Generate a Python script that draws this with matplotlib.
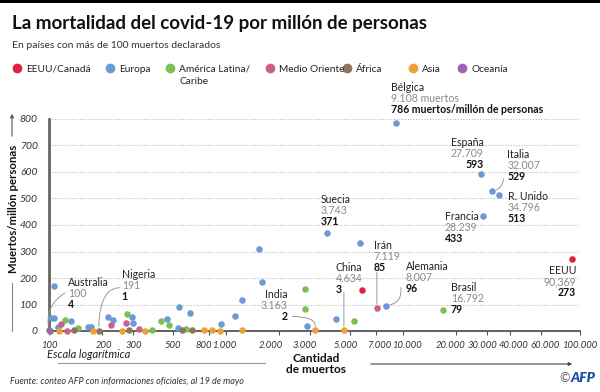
import numpy as np
import matplotlib
matplotlib.use("Agg")
import matplotlib.pyplot as plt
from matplotlib.lines import Line2D
from matplotlib.transforms import ScaledTranslation

plt.rcParams['font.family'] = ['Lato', 'DejaVu Sans']

# datos: (muertos, muertos por millón) por región
eeuu_deaths = [5900, 90369]
eeuu_rate = [155, 273]

eur_deaths = [107, 103, 107, 112, 133, 166, 173, 216, 230, 295, 299, 465, 536,
              544, 627, 940, 1127, 1235, 1542, 1600, 2850, 3743, 4160, 5680,
              8007, 9108, 27709, 28239, 32007, 34796]
eur_rate = [170, 49, 49, 15, 38, 15, 15, 53, 40, 53, 30, 45, 11,
            91, 68, 26, 57, 117, 309, 185, 19, 371, 45, 332,
            96, 786, 593, 433, 529, 513]

lat_deaths = [123, 146, 276, 383, 430, 477, 595, 2810, 2810, 5320, 16792]
lat_rate = [42, 11, 64, 4, 38, 23, 8, 158, 83, 38, 79]

mo_deaths = [117, 126, 224, 273, 323, 7119]
mo_rate = [26, 0, 23, 30, 8, 85]

afr_deaths = [101, 139, 191, 284, 566, 643]
afr_rate = [0, 4, 1, 4, 4, 4]

asia_deaths = [114, 177, 259, 349, 752, 836, 930, 1235, 3163, 4634]
asia_rate = [0, 0, 0, 0, 2, 3, 0, 4, 2, 3]

oce_deaths = [100]
oce_rate = [4]

regions = ['EEUU/Canadá', 'Europa', 'América Latina/', 'Medio Oriente',
           'África', 'Asia', 'Oceanía']
colors = ['#e0213f', '#6a9bd1', '#7dbf55', '#c9608a', '#8f7560', '#eda13a', '#9b67b3']

xticks = [100, 200, 300, 500, 800, 1000, 2000, 3000, 5000, 7000, 10000,
          20000, 30000, 40000, 60000, 100000]
xticklabels = ['100', '200', '300', '500', '800', '1.000', '2.000', '3.000', '5.000',
               '7.000', '10.000', '20.000', '30.000', '40.000', '60.000', '100.000']
yticks = [0, 100, 200, 300, 400, 500, 600, 700, 800]

# países destacados
ann_names = ['Bélgica', 'España', 'Italia', 'R. Unido', 'Francia', 'Suecia', 'Irán',
             'China', 'Alemania', 'Brasil', 'EEUU', 'India', 'Australia', 'Nigeria']
ann_x = [9108, 27709, 32007, 34796, 28239, 3743, 7119, 4634, 8007, 16792, 90369,
         3163, 100, 191]
ann_y = [786, 593, 529, 513, 433, 371, 85, 3, 96, 79, 273, 2, 4, 1]
ann_deaths = ['9.108 muertos', '27.709', '32.007', '34.796', '28.239', '3.743', '7.119',
              '4.634', '8.007', '16.792', '90,369', '3.163', '100', '191']
ann_rates = ['786 muertos/millón de personas', '593', '529', '513', '433', '371', '85',
             '3', '96', '79', '273', '2', '4', '1']
# desplazamiento del texto en píxeles (dx, dy hacia arriba) y alineación
ann_pos = [(-5, 35, 'left'), (2, 31, 'right'), (15, 36, 'left'), (9, -1, 'left'),
           (-38, 0, 'left'), (-7, 33, 'left'), (-3, 63, 'left'), (-8, 63, 'left'),
           (20, 39, 'left'), (8, 23, 'left'), (4, -12, 'right'), (-27, 36, 'right'),
           (19, 47, 'left'), (23, 56, 'left')]

W, H = 600, 392
fig = plt.figure(figsize=(6, 3.92), dpi=100)
fig.patch.set_facecolor('white')


def fx(px):
    return px / W


def fy(py):
    return 1 - py / H


# barra negra arriba
fig.add_artist(plt.Rectangle((0, fy(3)), 1, 3 / H, transform=fig.transFigure,
                             color='black', lw=0))

fig.text(fx(12), fy(29), 'La mortalidad del covid-19 por millón de personas',
         fontsize=13.5, fontweight='bold', color='#111111', va='baseline')
fig.text(fx(12), fy(48), 'En países con más de 100 muertos declarados',
         fontsize=7.5, color='#333333', va='baseline')

# leyenda
leg_x = [17, 110, 170, 270, 347, 413, 462]
for lx, lab, c in zip(leg_x, regions, colors):
    fig.add_artist(Line2D([fx(lx)], [fy(68)], marker='o', ms=6, color=c, lw=0,
                          transform=fig.transFigure))
    fig.text(fx(lx + 9), fy(72), lab, fontsize=7.3, color='#222222', va='baseline')
fig.text(fx(170 + 9), fy(84), 'Caribe', fontsize=7.3, color='#222222', va='baseline')

ax = fig.add_axes([fx(49), fy(331), fx(580) - fx(49), (331 - 119) / H])
ax.set_xscale('log')
ax.set_xlim(100, 100000)
ax.set_ylim(0, 800)

all_sets = [(eeuu_deaths, eeuu_rate), (eur_deaths, eur_rate), (lat_deaths, lat_rate),
            (mo_deaths, mo_rate), (afr_deaths, afr_rate), (asia_deaths, asia_rate),
            (oce_deaths, oce_rate)]
for (xs, ys), c in zip(all_sets, colors):
    ax.scatter(xs, ys, s=22, color=c, lw=0, zorder=3, clip_on=False)

for s in ['top', 'right']:
    ax.spines[s].set_visible(False)
ax.spines['left'].set_color('#666666')
ax.spines['left'].set_linewidth(2)
ax.spines['bottom'].set_color('#555555')
ax.spines['bottom'].set_linewidth(1.3)
ax.spines['bottom'].set_zorder(2)

ax.set_yticks(yticks)
ax.set_yticklabels([str(v) for v in yticks], fontsize=7.5, style='italic', color='#333333')
ax.tick_params(axis='y', length=0, pad=8)
for v in yticks[1:]:
    ax.axhline(v, color='#bbbbbb', lw=0.8, ls=(0, (1, 1.5)), zorder=1)

ax.set_xticks(xticks)
ax.set_xticklabels(xticklabels, fontsize=6.8, style='italic', color='#333333')
ax.xaxis.set_minor_locator(matplotlib.ticker.NullLocator())
ax.tick_params(axis='x', length=3, color='#555555', pad=4)
# las etiquetas del original están algo desplazadas para que no se monten (px)
shifts = {'200': 2, '800': -5, '1.000': -2, '2.000': -8, '3.000': -6, '5.000': -4,
          '7.000': 4, '10.000': 4, '20.000': -6, '30.000': -5, '40.000': 4,
          '60.000': 4}
for t in ax.xaxis.get_major_ticks():
    lab = t.label1.get_text()
    if lab in shifts:
        t.label1.set_transform(t.label1.get_transform() +
                               ScaledTranslation(shifts[lab] / 100, 0, fig.dpi_scale_trans))

# etiquetas de países
for i in range(len(ann_names)):
    dx, dy, ha = ann_pos[i]
    xy = (ann_x[i], ann_y[i])
    for j, (txt, col, wt) in enumerate([(ann_names[i], '#222222', 'normal'),
                                        (ann_deaths[i], '#8a8a8a', 'normal'),
                                        (ann_rates[i], '#111111', 'bold')]):
        ax.annotate(txt, xy, xytext=(dx, dy - 11 * j), textcoords='offset pixels',
                    ha=ha, va='center', fontsize=7.6, color=col, fontweight=wt,
                    annotation_clip=False, zorder=4)

# líneas guía
lead = dict(arrowstyle='-', color='#999999', lw=0.7, shrinkA=0, shrinkB=3)
ax.annotate('', (32007, 529), xytext=(11, 12), textcoords='offset pixels',
            arrowprops=dict(lead, connectionstyle='arc3,rad=-0.4'))
ax.annotate('', (7119, 85), xytext=(0, 36), textcoords='offset pixels',
            arrowprops=dict(lead))
ax.annotate('', (4634, 3), xytext=(0, 38), textcoords='offset pixels',
            arrowprops=dict(lead))
ax.annotate('', (8007, 96), xytext=(15, 18), textcoords='offset pixels',
            arrowprops=dict(lead, connectionstyle='arc3,rad=-0.5'))
ax.annotate('', (3163, 2), xytext=(-22, 14), textcoords='offset pixels',
            arrowprops=dict(lead, connectionstyle='angle3,angleA=0,angleB=70'))
ax.annotate('', (100, 4), xytext=(16, 37), textcoords='offset pixels',
            arrowprops=dict(lead, connectionstyle='arc3,rad=0.35'))
ax.annotate('', (191, 1), xytext=(21, 43), textcoords='offset pixels',
            arrowprops=dict(lead, connectionstyle='angle3,angleA=180,angleB=90'))

# títulos de ejes
fig.text(fx(14), fy(209), 'Muertos/millón personas', rotation=90, fontsize=8.2,
         fontweight='bold', color='#111111', ha='center', va='center')
fig.add_artist(Line2D([fx(12), fx(12)], [fy(283), fy(331)], color='#888888', lw=0.8,
                      transform=fig.transFigure))
fig.add_artist(matplotlib.patches.FancyArrowPatch((fx(12), fy(139)), (fx(12), fy(111)),
                                                  transform=fig.transFigure,
                                                  arrowstyle='-|>', mutation_scale=5,
                                                  color='#555555', lw=0.8))

fig.text(fx(47), fy(358), 'Escala logarítmica', fontsize=8, style='italic',
         color='#222222', va='baseline')
fig.text(fx(316), fy(364), 'Cantidad\nde muertos', fontsize=8.6, fontweight='bold',
         color='#111111', ha='center', va='center', linespacing=1.0)
fig.add_artist(Line2D([fx(58), fx(265)], [fy(363), fy(363)], color='#999999', lw=0.8,
                      transform=fig.transFigure))
fig.add_artist(matplotlib.patches.FancyArrowPatch((fx(368), fy(364)), (fx(575), fy(364)),
                                                  transform=fig.transFigure,
                                                  arrowstyle='-|>', mutation_scale=5,
                                                  color='#444444', lw=0.8))

fig.text(fx(10), fy(384), 'Fuente: conteo AFP con informaciones oficiales, al 19 de mayo',
         fontsize=6.5, style='italic', color='#333333', va='baseline')
fig.text(fx(570), fy(378), '©', fontsize=9, color='#555555', ha='right', va='center')
fig.text(fx(571), fy(378), 'AFP', fontsize=10, color='#1d4f9e', fontweight='heavy',
         style='italic', ha='left', va='center')

fig.savefig('out.png', dpi=100)
